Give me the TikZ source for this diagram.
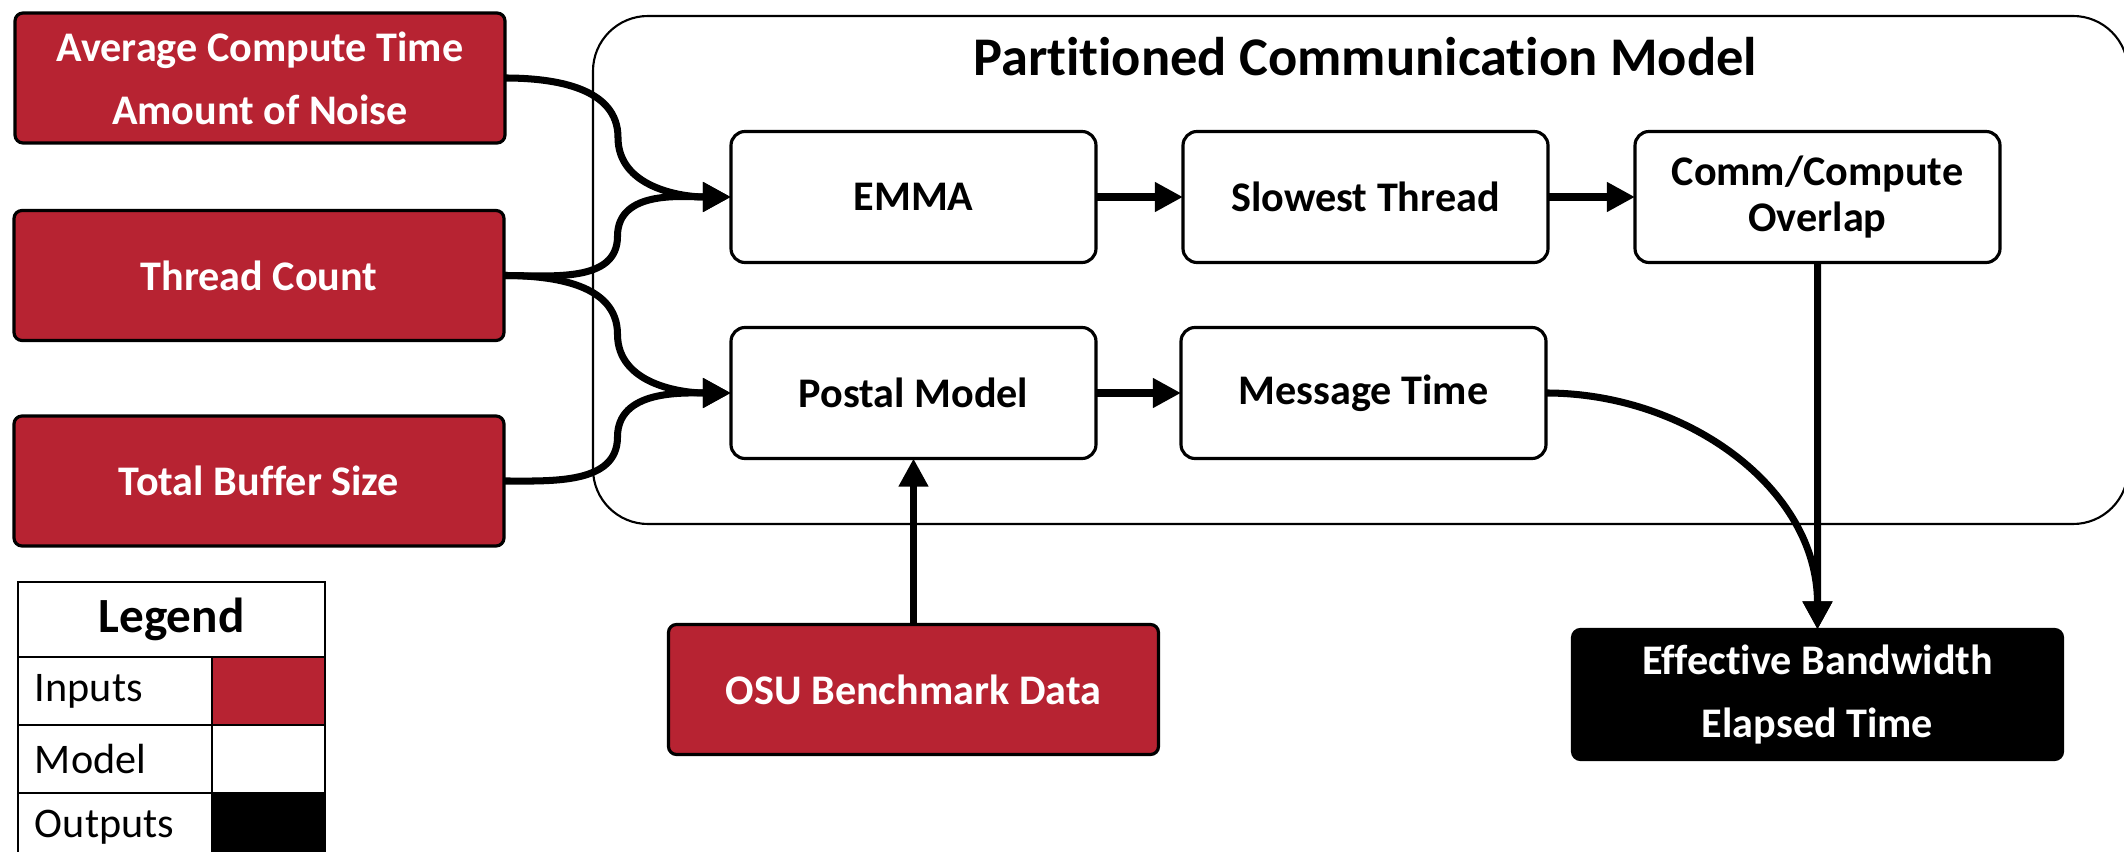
\documentclass[tikz,border=0pt]{standalone}
\usepackage{fontspec}
\setmainfont{Carlito}[Ligatures=NoCommon,RawFeature={-liga;-clig;-calt;-dlig}]
\usetikzlibrary{arrows.meta,positioning,calc}
\definecolor{inred}{RGB}{183,35,50}

\begin{document}
\begin{tikzpicture}[
  every node/.style={inner sep=0pt, outer sep=0pt},
  input/.style={draw=black, line width=0.9pt, fill=inred, rounded corners=0.08cm, minimum width=4.9cm, minimum height=1.3cm, align=center, text=white, font=\fontsize{12}{18}\selectfont\bfseries},
  output/.style={input, fill=black},
  stage/.style={draw=black, line width=0.9pt, fill=white, rounded corners=0.14cm, minimum width=3.65cm, minimum height=1.31cm, align=center, font=\fontsize{12}{13}\selectfont\bfseries},
  link/.style={line width=2pt, -{Triangle[length=8pt,width=8pt]}},
  legcell/.style={draw=black, line width=0.6pt, anchor=north west, minimum height=0.68cm, font=\fontsize{12}{14}\selectfont}
]
\useasboundingbox (0,0) rectangle (21.24,-8.52);

\node[draw=black, line width=0.6pt, rounded corners=0.55cm, minimum width=15.35cm, minimum height=5.08cm] (model) at (13.605,-2.70) {};
\node[font=\fontsize{15.5}{19}\selectfont\bfseries] (title) at (13.65,-0.57) {Partitioned Communication Model};

\node[input] (avgnoise) at (2.6,-0.78) {Average Compute Time\\Amount of Noise};
\node[input] (threads) at (2.59,-2.755) {Thread Count};
\node[input] (bufsize) at (2.59,-4.81) {Total Buffer Size};

\node[stage] (emma) at (9.135,-1.97) {EMMA};
\node[stage, right=0.87cm of emma] (slowest) {Slowest Thread};
\node[stage, right=0.87cm of slowest] (overlap) {Comm/Compute\\Overlap};
\node[stage] (postal) at (9.135,-3.93) {Postal Model};
\node[stage, right=0.85cm of postal] (msgtime) {Message Time};

\node[input] (osu) at (9.135,-6.895) {OSU Benchmark Data};
\node[output] (results) at (18.175,-6.945) {Effective Bandwidth\\Elapsed Time};

\draw[link] (avgnoise.east) to[out=0,in=90] ($(avgnoise.east)!.5!(emma.west)$) to[out=-90,in=180] (emma.west);
\draw[link] (threads.east) to[out=0,in=-90] ($(threads.east)!.5!(emma.west)$) to[out=90,in=180] (emma.west);
\draw[link] (threads.east) to[out=0,in=90] ($(threads.east)!.5!(postal.west)$) to[out=-90,in=180] (postal.west);
\draw[link] (bufsize.east) to[out=0,in=-90] ($(bufsize.east)!.5!(postal.west)$) to[out=90,in=180] (postal.west);
\draw[link] (emma) -- (slowest);
\draw[link] (slowest) -- (overlap);
\draw[link] (postal) -- (msgtime);
\draw[link] (osu) -- (postal);
\draw[link] (overlap) -- (results);
\draw[link] (msgtime.east) to[out=0,in=90] (results.north);

\node[legcell, minimum width=3.07cm, minimum height=0.75cm, font=\fontsize{14}{16}\selectfont\bfseries] (leghead) at (0.18,-5.82) {Legend};
\node[legcell, text width=1.6cm, inner xsep=0.17cm, align=left] (leginputs) at (leghead.south west) {Inputs};
\node[legcell, minimum width=1.13cm, fill=inred] (swinputs) at (leginputs.north east) {};
\node[legcell, text width=1.6cm, inner xsep=0.17cm, align=left] (legmodel) at (leginputs.south west) {Model};
\node[legcell, minimum width=1.13cm, fill=white] (swmodel) at (legmodel.north east) {};
\node[legcell, text width=1.6cm, inner xsep=0.17cm, align=left] (legoutputs) at (legmodel.south west) {Outputs};
\node[legcell, minimum width=1.13cm, fill=black] (swoutputs) at (legoutputs.north east) {};
\end{tikzpicture}
\end{document}
